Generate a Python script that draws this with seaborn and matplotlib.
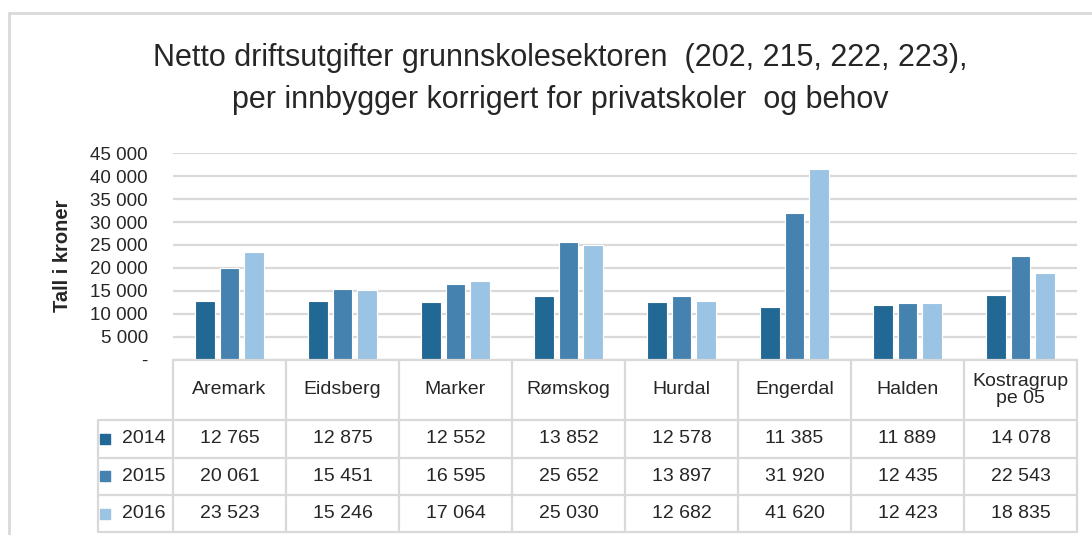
import pandas as pd
import matplotlib.pyplot as plt
import matplotlib.patches as mpatches
import seaborn as sns

# Data
kommuner = ["Aremark", "Eidsberg", "Marker", "Rømskog", "Hurdal",
            "Engerdal", "Halden", "Kostragruppe 05"]
header_labels = ["Aremark", "Eidsberg", "Marker", "Rømskog", "Hurdal",
                 "Engerdal", "Halden", "Kostragrup\npe 05"]
years = ["2014", "2015", "2016"]
v2014 = [12765, 12875, 12552, 13852, 12578, 11385, 11889, 14078]
v2015 = [20061, 15451, 16595, 25652, 13897, 31920, 12435, 22543]
v2016 = [23523, 15246, 17064, 25030, 12682, 41620, 12423, 18835]
colors = ["#226894", "#4682b0", "#9bc3e3"]

df = pd.DataFrame({
    "kommune": kommuner * 3,
    "aar": [y for y in years for _ in kommuner],
    "verdi": v2014 + v2015 + v2016,
})

sns.set_style("white")
plt.rcParams["font.family"] = ["Liberation Sans Narrow", "Liberation Sans", "DejaVu Sans"]

W, H = 1092, 535
fig = plt.figure(figsize=(W / 100, H / 100), dpi=100)

# outer chart frame
fig.patches.append(mpatches.Rectangle((9 / W, -0.1), 1.2, 1 - 13 / H + 0.1,
                                      transform=fig.transFigure, fill=False,
                                      edgecolor="#d9d9d9", linewidth=2))

left, right = 173, 1077
top, bottom = 153.3, 359.6
ax = fig.add_axes([left / W, 1 - bottom / H, (right - left) / W, (bottom - top) / H])

sns.barplot(data=df, x="kommune", y="verdi", hue="aar", palette=colors,
            saturation=1, width=0.66, gap=0.2, edgecolor="white", linewidth=0.8,
            legend=False, ax=ax)

ax.set_ylim(0, 45000)
ax.set_xlim(-0.5, len(kommuner) - 0.5)
ticks = list(range(0, 45001, 5000))
ax.set_yticks(ticks)
ax.set_yticklabels(["-"] + [f"{t:,}".replace(",", " ") for t in ticks[1:]], fontsize=13.5)
ax.tick_params(axis="y", length=0, pad=18)
ax.set_xticks([])
ax.set_xlabel("")
ax.set_ylabel("")
ax.yaxis.grid(True, color="#d9d9d9", linewidth=1.6)
ax.set_axisbelow(True)
for s in ax.spines.values():
    s.set_visible(False)

fig.text(63 / W, 1 - 256 / H, "Tall i kroner", rotation=90, ha="center", va="center",
         fontsize=14.5, fontweight="bold")

fig.text(560 / W, 1 - 58 / H, "Netto driftsutgifter grunnskolesektoren  (202, 215, 222, 223),",
         ha="center", va="center", fontsize=22)
fig.text(560 / W, 1 - 100 / H, "per innbygger korrigert for privatskoler  og behov",
         ha="center", va="center", fontsize=22)

# data table below the axis
leg_w = 75 / 113
tax = fig.add_axes([98 / W, 1 - 532 / H, (right - 98) / W, (532 - 360) / H])
tax.set_xlim(-0.5 - leg_w, len(kommuner) - 0.5)
tax.set_ylim(172, 0)
tax.axis("off")
grid_c = "#d9d9d9"
n = len(kommuner)
rows_y = [0, 60, 97.5, 135, 172]
tax.plot([-0.5, n - 0.5], [0, 0], color=grid_c, lw=1.6, clip_on=False)
for yy in rows_y[1:]:
    tax.plot([-0.5 - leg_w, n - 0.5], [yy, yy], color=grid_c, lw=1.6, clip_on=False)
for k in range(n + 1):
    tax.plot([-0.5 + k, -0.5 + k], [0, 172], color=grid_c, lw=1.6, clip_on=False)
tax.plot([-0.5 - leg_w, -0.5 - leg_w], [60, 172], color=grid_c, lw=1.6, clip_on=False)

for i, lab in enumerate(header_labels):
    tax.text(i, 30, lab, ha="center", va="center", fontsize=14, linespacing=0.95)

for r, (yr, vals, c) in enumerate(zip(years, [v2014, v2015, v2016], colors)):
    yc = (rows_y[r + 1] + rows_y[r + 2]) / 2
    tax.scatter([-1.10], [yc], marker="s", s=55, color=c, clip_on=False)
    tax.text(-0.95, yc, yr, ha="left", va="center", fontsize=14)
    for i, v in enumerate(vals):
        tax.text(i, yc, f"{v:,}".replace(",", " "), ha="center", va="center", fontsize=14)

plt.savefig("out.png", dpi=100)
